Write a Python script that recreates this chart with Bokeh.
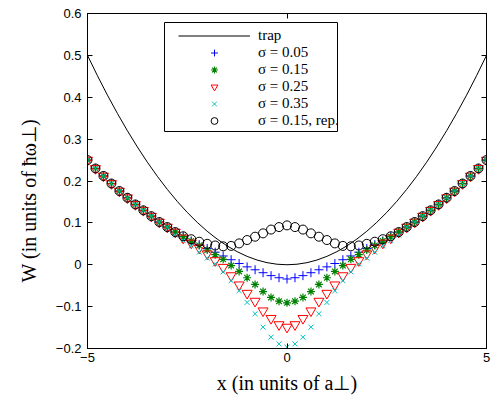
from bokeh.plotting import figure
from bokeh.models import LinearAxis, Range1d, FixedTicker, Legend, LegendItem, BoxAnnotation, Title
from bokeh.embed import file_html
from bokeh.resources import INLINE

# ---- data ----
x_pts = [-5.0, -4.8, -4.6, -4.4, -4.2, -4.0, -3.8, -3.6, -3.4, -3.2, -3.0, -2.8, -2.6,
         -2.4, -2.2, -2.0, -1.8, -1.6, -1.4, -1.2, -1.0, -0.8, -0.6, -0.4, -0.2, 0.0,
         0.2, 0.4, 0.6, 0.8, 1.0, 1.2, 1.4, 1.6, 1.8, 2.0, 2.2, 2.4, 2.6, 2.8, 3.0,
         3.2, 3.4, 3.6, 3.8, 4.0, 4.2, 4.4, 4.6, 4.8, 5.0]

w_s005 = [0.250, 0.230, 0.212, 0.194, 0.176, 0.160, 0.144, 0.130, 0.116, 0.102, 0.090, 0.078, 0.068,
          0.057, 0.048, 0.039, 0.030, 0.021, 0.012, 0.003, -0.005, -0.012, -0.019, -0.026, -0.031, -0.034,
          -0.031, -0.026, -0.019, -0.012, -0.005, 0.003, 0.012, 0.021, 0.030, 0.039, 0.048, 0.057, 0.068,
          0.078, 0.090, 0.102, 0.116, 0.130, 0.144, 0.160, 0.176, 0.194, 0.212, 0.230, 0.250]

w_s015 = [0.250, 0.230, 0.212, 0.194, 0.176, 0.160, 0.144, 0.130, 0.116, 0.102, 0.090, 0.078, 0.067,
          0.057, 0.046, 0.035, 0.024, 0.013, -0.002, -0.016, -0.031, -0.047, -0.064, -0.078, -0.087, -0.091,
          -0.087, -0.078, -0.064, -0.047, -0.031, -0.016, -0.002, 0.013, 0.024, 0.035, 0.046, 0.057, 0.067,
          0.078, 0.090, 0.102, 0.116, 0.130, 0.144, 0.160, 0.176, 0.194, 0.212, 0.230, 0.250]

w_s025 = [0.250, 0.230, 0.212, 0.194, 0.176, 0.160, 0.144, 0.130, 0.116, 0.102, 0.090, 0.078, 0.064,
          0.052, 0.040, 0.026, 0.010, -0.006, -0.026, -0.048, -0.068, -0.087, -0.110, -0.128, -0.143, -0.149,
          -0.143, -0.128, -0.110, -0.087, -0.068, -0.048, -0.026, -0.006, 0.010, 0.026, 0.040, 0.052, 0.064,
          0.078, 0.090, 0.102, 0.116, 0.130, 0.144, 0.160, 0.176, 0.194, 0.212, 0.230, 0.250]

w_s035 = [0.250, 0.230, 0.212, 0.194, 0.176, 0.160, 0.144, 0.130, 0.116, 0.102, 0.090, 0.071, 0.058,
          0.045, 0.030, 0.016, 0.002, -0.017, -0.038, -0.062, -0.090, -0.117, -0.149, -0.173, -0.189, -0.197,
          -0.189, -0.173, -0.149, -0.117, -0.090, -0.062, -0.038, -0.017, 0.002, 0.016, 0.030, 0.045, 0.058,
          0.071, 0.090, 0.102, 0.116, 0.130, 0.144, 0.160, 0.176, 0.194, 0.212, 0.230, 0.250]

w_rep = [0.250, 0.230, 0.212, 0.194, 0.176, 0.160, 0.144, 0.130, 0.116, 0.102, 0.090, 0.078, 0.068,
         0.061, 0.055, 0.050, 0.046, 0.044, 0.045, 0.051, 0.059, 0.067, 0.075, 0.084, 0.090, 0.094,
         0.090, 0.084, 0.075, 0.067, 0.059, 0.051, 0.045, 0.044, 0.046, 0.050, 0.055, 0.061, 0.068,
         0.078, 0.090, 0.102, 0.116, 0.130, 0.144, 0.160, 0.176, 0.194, 0.212, 0.230, 0.250]

x_trap = [-5.0, -4.75, -4.5, -4.25, -4.0, -3.75, -3.5, -3.25, -3.0, -2.75, -2.5, -2.25, -2.0,
          -1.75, -1.5, -1.25, -1.0, -0.75, -0.5, -0.25, 0.0, 0.25, 0.5, 0.75, 1.0, 1.25, 1.5,
          1.75, 2.0, 2.25, 2.5, 2.75, 3.0, 3.25, 3.5, 3.75, 4.0, 4.25, 4.5, 4.75, 5.0]
w_trap = [0.5, 0.45125, 0.405, 0.36125, 0.32, 0.28125, 0.245, 0.21125, 0.18, 0.15125, 0.125, 0.10125,
          0.08, 0.06125, 0.045, 0.03125, 0.02, 0.01125, 0.005, 0.00125, 0.0, 0.00125, 0.005, 0.01125,
          0.02, 0.03125, 0.045, 0.06125, 0.08, 0.10125, 0.125, 0.15125, 0.18, 0.21125, 0.245, 0.28125,
          0.32, 0.36125, 0.405, 0.45125, 0.5]

x_ticks = [-5, 0, 5]
y_ticks = [-0.2, -0.1, 0, 0.1, 0.2, 0.3, 0.4, 0.5, 0.6]
y_tick_labels = {-0.2: "\u22120.2", -0.1: "\u22120.1", 0: "0", 0.1: "0.1", 0.2: "0.2",
                 0.3: "0.3", 0.4: "0.4", 0.5: "0.5", 0.6: "0.6"}
x_tick_labels = {-5: "\u22125", 0: "0", 5: "5"}

x_title = "x (in units of a\u22a5)"
y_title = "W (in units of \u0127\u03c9\u22a5)"
legend_labels = ["trap", "\u03c3 = 0.05", "\u03c3 = 0.15", "\u03c3 = 0.25", "\u03c3 = 0.35", "\u03c3 = 0.15, rep."]

# ---- figure ----
p = figure(width=491, height=407, output_backend="svg", toolbar_location=None,
           x_range=Range1d(-5, 5), y_range=Range1d(-0.2, 0.6),
           min_border_left=87, min_border_right=5, min_border_top=13, min_border_bottom=59)
p.background_fill_color = "white"
p.border_fill_color = "white"
p.grid.visible = False
p.outline_line_color = "black"
p.outline_line_width = 1

for ax in [p.xaxis[0], p.yaxis[0]]:
    ax.major_tick_in = 5
    ax.major_tick_out = 0
    ax.minor_tick_line_color = None
    ax.axis_line_color = "black"
    ax.major_tick_line_color = "black"
    ax.major_label_text_font = "Liberation Sans"
    ax.major_label_text_font_size = "13px"
    ax.major_label_text_color = "black"

p.xaxis[0].ticker = FixedTicker(ticks=x_ticks)
p.xaxis[0].major_label_overrides = x_tick_labels
p.xaxis[0].major_label_standoff = 4
p.xaxis[0].axis_label = x_title
p.xaxis[0].axis_label_text_font = "Liberation Serif"
p.xaxis[0].axis_label_text_font_size = "20px"
p.xaxis[0].axis_label_text_font_style = "normal"
p.xaxis[0].axis_label_text_color = "black"
p.xaxis[0].axis_label_standoff = 7

p.yaxis[0].ticker = FixedTicker(ticks=y_ticks)
p.yaxis[0].major_label_overrides = y_tick_labels
p.yaxis[0].major_label_standoff = 6

# y title as a side title, started from the bottom like the reference
ytitle = Title(text=y_title, align="left", offset=66, standoff=26,
               text_font="Liberation Serif", text_font_size="20px",
               text_font_style="normal", text_color="black")
p.add_layout(ytitle, "left")

# box: ticks on top and right as well (no labels)
top_ax = LinearAxis(ticker=FixedTicker(ticks=x_ticks))
right_ax = LinearAxis(ticker=FixedTicker(ticks=y_ticks))
for ax in [top_ax, right_ax]:
    ax.major_tick_in = 5
    ax.major_tick_out = 0
    ax.minor_tick_line_color = None
    ax.major_label_text_font_size = "1px"
    ax.major_label_text_color = None
    ax.major_label_standoff = 0
p.add_layout(top_ax, "above")
p.add_layout(right_ax, "right")

# ---- data glyphs ----
r_trap = p.line(x_trap, w_trap, line_color="black", line_width=1)
r1 = p.scatter(x_pts, w_s005, marker="cross", size=9, line_color="#0000ff", line_width=1)
r2 = p.scatter(x_pts, w_s015, marker="asterisk", size=8, line_color="#008000", line_width=1.2)
r3 = p.scatter(x_pts, w_s025, marker="inverted_triangle", size=10, line_color="#ff0000",
               fill_color=None, line_width=1)
r4 = p.scatter(x_pts, w_s035, marker="x", size=7, line_color="#00bfbf", line_width=1)
r5 = p.scatter(x_pts, w_rep, marker="circle", size=9, line_color="black", fill_color=None, line_width=1)

# legend frame (opaque white box with black border)
legend_box = BoxAnnotation(left=-3.07, right=1.266, top=0.5785, bottom=0.3182,
                           fill_color="white", fill_alpha=1.0,
                           line_color="black", line_width=1, line_alpha=1.0)
p.add_layout(legend_box)

items = [LegendItem(label=lab, renderers=[r]) for lab, r in
         zip(legend_labels, [r_trap, r1, r2, r3, r4, r5])]
legend = Legend(items=items, location=(91, 219))
legend.border_line_color = None
legend.background_fill_alpha = 0
legend.label_text_font = "Liberation Serif"
legend.label_text_font_size = "15px"
legend.label_text_color = "black"
legend.glyph_width = 72
legend.glyph_height = 17
legend.label_height = 17
legend.spacing = 0
legend.padding = 0
legend.margin = 0
legend.label_standoff = 8
p.add_layout(legend, "center")

open("out.html", "w").write(file_html(p, INLINE))
